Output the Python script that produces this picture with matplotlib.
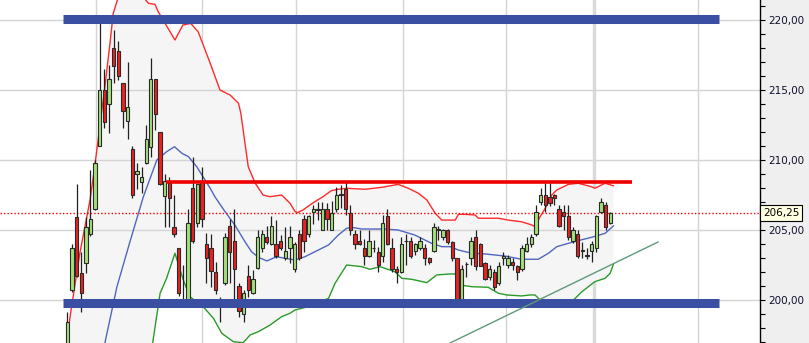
import numpy as np
import matplotlib
matplotlib.use("Agg")
from matplotlib import pyplot as plt
from matplotlib.ticker import MultipleLocator, FuncFormatter

# daily candles
opens = [196.3, 200.71, 205.95, 201.95, 202.66, 204.69, 206.48, 211.0, 215.0, 213.98,
         217.98, 217.79, 215.48, 212.76, 210.76, 208.98, 208.45, 209.76, 210.95, 215.76,
         211.98, 207.45, 208.38, 205.24, 203.69, 199.95, 200.0, 207.98, 205.48, 208.5,
         203.98, 203.69, 201.98, 200.0, 201.19, 205.29, 204.24, 201.0, 199.0, 201.71,
         200.48, 202.26, 203.69, 204.48, 203.98, 203.98, 204.21, 202.98, 203.69, 202.21,
         204.69, 205.79, 204.69, 206.31, 206.5, 205.0, 206.48, 205.0, 206.48, 207.5,
         207.91, 206.24, 204.69, 204.21, 203.69, 203.17, 203.7, 203.45, 203.17, 206.0,
         203.69, 202.21, 201.98, 204.2, 204.21, 203.5, 203.69, 203.69, 202.98, 203.5,
         205.0, 204.48, 205.0, 204.17, 202.98, 200.0, 202.55, 202.98, 204.48, 203.98,
         202.62, 201.67, 201.98, 201.19, 202.98, 202.5, 202.69, 202.45, 202.21, 203.5,
         203.98, 204.69, 206.98, 207.5, 207.38, 207.5, 206.48, 206.31, 206.0, 204.21,
         204.69, 203.5, 203.17, 203.5, 203.69, 206.31, 206.79, 205.48]
highs = [199.16, 203.98, 208.29, 203.45, 205.95, 209.29, 210.0, 220.2, 216.5, 216.79,
         219.29, 218.5, 215.5, 217.02, 211.02, 209.76, 209.52, 212.5, 217.26, 215.8,
         212.0, 209.0, 208.81, 207.5, 203.7, 202.5, 206.48, 210.24, 208.3, 209.52,
         204.76, 204.69, 202.74, 200.2, 204.76, 205.76, 206.48, 201.19, 200.71, 202.5,
         202.14, 205.0, 205.0, 205.29, 206.0, 205.71, 204.64, 205.24, 205.29, 204.12,
         205.0, 206.07, 206.1, 206.79, 207.02, 207.02, 206.9, 207.1, 208.1, 208.2,
         208.41, 206.79, 205.0, 205.0, 204.34, 205.0, 204.29, 203.81, 206.07, 206.48,
         204.43, 202.4, 204.48, 204.71, 204.5, 204.1, 204.48, 204.0, 203.1, 205.48,
         205.29, 205.1, 205.1, 204.2, 203.0, 202.5, 202.74, 204.48, 205.0, 204.1,
         202.7, 202.5, 202.21, 202.74, 203.45, 203.2, 203.0, 202.5, 203.9, 204.5,
         204.7, 206.79, 208.02, 208.38, 208.33, 207.55, 206.79, 206.79, 206.79, 205.2,
         205.0, 204.17, 203.69, 204.2, 206.1, 207.31, 207.02, 206.3]
lows = [196.0, 200.6, 201.65, 199.16, 201.9, 204.6, 206.4, 211.0, 212.26, 211.95,
        215.48, 215.71, 212.26, 211.48, 207.26, 207.91, 207.62, 209.7, 210.24, 212.14,
        208.2, 205.24, 205.24, 204.48, 200.3, 199.6, 199.6, 204.1, 205.24, 205.24,
        201.19, 200.9, 200.43, 198.45, 201.1, 201.19, 199.52, 198.81, 198.45, 200.24,
        200.4, 202.2, 203.45, 204.0, 203.95, 202.98, 203.57, 202.86, 202.66, 202.0,
        202.86, 203.45, 204.48, 205.43, 205.71, 205.0, 205.0, 205.0, 206.31, 206.6,
        206.07, 204.64, 203.62, 203.9, 202.52, 203.1, 203.45, 202.02, 202.74, 203.9,
        202.02, 201.19, 201.95, 202.5, 202.98, 203.2, 203.6, 202.5, 202.6, 203.4,
        204.29, 204.3, 204.0, 202.8, 199.8, 199.8, 201.67, 202.5, 202.14, 202.4,
        201.4, 201.43, 200.71, 201.1, 202.5, 202.26, 202.14, 201.43, 202.1, 203.4,
        203.81, 204.6, 206.8, 206.31, 206.7, 206.79, 205.24, 205.0, 204.29, 204.1,
        202.98, 202.98, 202.93, 202.69, 203.45, 206.2, 205.0, 205.4]
closes = [198.45, 203.69, 201.71, 200.48, 205.24, 205.76, 209.76, 215.0, 212.74, 215.76,
          216.74, 216.0, 213.48, 213.76, 207.5, 209.24, 208.76, 211.48, 215.76, 213.26,
          208.26, 208.5, 207.26, 204.71, 200.48, 199.95, 205.48, 204.21, 208.26, 205.76,
          202.98, 202.05, 200.71, 199.6, 204.48, 203.45, 202.19, 199.21, 200.48, 200.71,
          201.48, 204.48, 204.69, 204.16, 205.29, 203.14, 203.69, 203.5, 204.48, 203.98,
          202.98, 204.21, 206.0, 206.48, 206.45, 206.48, 205.76, 206.24, 207.5, 207.5,
          206.48, 205.0, 203.98, 203.98, 203.17, 204.21, 203.7, 202.5, 205.48, 203.98,
          202.19, 201.98, 203.98, 204.2, 203.17, 203.98, 204.21, 202.98, 202.69, 205.24,
          205.0, 205.0, 204.17, 202.98, 200.0, 202.21, 202.55, 204.21, 202.45, 202.45,
          201.48, 202.21, 200.95, 202.45, 203.17, 202.98, 202.5, 202.02, 203.69, 203.98,
          204.48, 206.26, 207.5, 206.79, 206.95, 207.26, 205.29, 206.0, 204.48, 205.0,
          203.14, 203.5, 203.17, 203.98, 206.0, 206.98, 205.24, 206.25]

# bollinger bands (x in candle index units)
upper_x = [-1.0, -0.1, 0.6, 1.7, 2.7, 3.8, 4.9, 6.0, 7.0, 8.1, 9.2, 9.9, 10.8, 13.5, 16.9,
           17.5, 18.9, 19.6, 23.2, 24.9, 26.6, 28.2, 30.8, 32.9, 35.1, 36.9, 37.4, 39.0,
           40.5, 42.2, 43.7, 46.2, 48.0, 49.1, 49.6, 50.8, 53.0, 55.1, 56.9, 58.4, 60.2,
           64.2, 67.8, 71.3, 73.5, 75.7, 77.5, 79.3, 80.7, 83.6, 84.3, 85.7, 87.9, 88.6,
           92.9, 95.0, 97.9, 100.1, 100.8, 101.9, 103.0, 104.4, 105.5, 108.0, 110.1,
           113.0, 113.7, 115.9, 117.7]
upper_y = [194.5, 196.93, 198.81, 201.19, 203.34, 205.24, 207.14, 209.76, 212.38, 215.24,
           218.34, 220.48, 221.43, 223.0, 221.43, 221.19, 221.12, 220.59, 218.57, 219.64,
           219.76, 219.16, 216.91, 215.0, 214.64, 214.05, 213.34, 209.52, 208.34, 207.5,
           207.38, 207.5, 206.91, 206.31, 206.24, 206.43, 206.95, 207.38, 207.81, 207.91,
           207.98, 207.91, 208.05, 208.26, 207.98, 207.62, 207.14, 206.19, 205.71, 205.71,
           206.12, 206.12, 206.07, 205.84, 205.84, 205.71, 205.59, 205.36, 205.24, 205.95,
           206.55, 207.5, 207.86, 208.26, 208.34, 208.09, 207.98, 208.34, 208.16]
middle_x = [8.1, 10.7, 13.5, 16.4, 19.3, 21.4, 23.1, 24.7, 26.1, 27.9, 30.8, 31.8, 34.0,
            36.1, 38.3, 39.7, 41.2, 43.0, 45.1, 46.9, 49.1, 51.2, 54.1, 56.3, 58.4, 60.2,
            61.3, 63.5, 68.5, 71.3, 74.9, 78.5, 80.7, 82.5, 84.3, 87.2, 90.0, 94.3, 97.9,
            101.5, 103.7, 105.5, 108.0, 110.1, 113.0, 115.9, 117.7]
middle_y = [196.93, 200.95, 204.16, 207.38, 210.0, 210.59, 210.95, 210.48, 210.24, 209.52,
            207.98, 207.38, 206.31, 205.36, 204.16, 203.45, 203.05, 202.79, 203.09, 202.98,
            202.86, 203.09, 203.57, 203.93, 204.64, 205.12, 205.19, 205.07, 205.07, 205.0,
            204.64, 204.05, 203.81, 203.81, 203.57, 203.34, 203.29, 203.14, 202.91, 202.91,
            203.34, 203.81, 204.05, 204.24, 204.48, 204.76, 205.29]
lower_x = [-1.0, 18.4, 20.0, 21.4, 23.2, 25.0, 26.4, 29.3, 31.5, 33.3, 35.8, 37.9, 39.4,
           41.2, 43.7, 46.2, 48.0, 49.1, 51.9, 56.3, 57.7, 60.2, 63.5, 65.2, 67.4, 70.6,
           72.1, 74.2, 77.5, 79.6, 82.5, 83.6, 84.6, 87.2, 90.7, 92.9, 94.7, 97.9, 99.7,
           100.8, 101.9, 109.1, 110.9, 112.3, 113.7, 115.9, 117.0, 117.7]
lower_y = [185.0, 196.93, 200.48, 201.55, 203.34, 201.43, 200.24, 199.52, 198.69, 197.62,
           197.02, 196.95, 197.5, 197.74, 198.21, 198.81, 199.05, 199.29, 199.52, 200.12,
           201.19, 202.5, 202.38, 202.19, 202.38, 202.02, 201.55, 201.48, 201.24, 201.79,
           201.86, 201.86, 201.07, 200.95, 200.91, 200.48, 200.36, 200.29, 200.36, 200.36,
           200.0, 200.0, 200.59, 200.95, 201.31, 201.55, 201.91, 202.55]

# drawn levels
support_res = [220.05, 199.8]
resistance = 208.45
last_price = 206.25
trend_x = [82.5, 127.3]
trend_y = [196.93, 204.14]
month_grid = [6.2, 29.0, 49.3, 72.35, 94.55, 135.9]
year_grid = 113.5

fmt = lambda v, p: f"{v:.2f}".replace('.', ',')

fig = plt.figure(figsize=(8.09, 3.43), dpi=100)
fig.patch.set_facecolor('#efefef')
ax = fig.add_axes([0, 0, 760 / 809, 1])
ax.set_facecolor('white')
ax.set_xlim(-14.504, 149.29)
ax.set_ylim(196.9286, 221.4286)

for s in ['top', 'left', 'bottom']:
    ax.spines[s].set_visible(False)
ax.spines['right'].set_color('black')
ax.spines['right'].set_linewidth(1)
ax.set_xticks([])
ax.yaxis.tick_right()
ax.yaxis.set_major_locator(MultipleLocator(5))
ax.yaxis.set_minor_locator(MultipleLocator(1))
ax.yaxis.set_major_formatter(FuncFormatter(fmt))
ax.tick_params(axis='y', which='both', direction='out', length=3.5, width=0.8,
               color='black', labelsize=7.5, pad=2.5, labelcolor='#101030')

ax.grid(axis='y', which='major', color='#d4d4d4', lw=1, zorder=0)
for g in month_grid:
    ax.axvline(g, color='#d4d4d4', lw=1, zorder=0)
ax.axvline(year_grid, color='#dadada', lw=2.5, zorder=0)

ax.fill(np.r_[upper_x, lower_x[::-1]], np.r_[upper_y, lower_y[::-1]],
        color='#f5f5f5', lw=0, zorder=1)
ax.plot(upper_x, upper_y, color='#ff2a2a', lw=1, zorder=2)
ax.plot(middle_x, middle_y, color='#5066c0', lw=1, zorder=2)
ax.plot(lower_x, lower_y, color='#2a9a2a', lw=1, zorder=2)

ax.axhline(last_price, color='red', lw=1, ls=(0, (1, 1.5)), zorder=2.5)

o = np.array(opens)
h = np.array(highs)
l = np.array(lows)
c = np.array(closes)
x = np.arange(len(o))
ax.vlines(x, l, h, color='#202020', lw=0.9, zorder=3)
colors = np.where(c > o, '#a4e07a', np.where(c < o, '#ee2020', '#202020'))
height = np.maximum(np.abs(c - o), 0.04)
ax.bar(x, height, bottom=np.minimum(o, c), width=0.72, color=colors,
       edgecolor='#2a2a2a', lw=0.8, zorder=3.5)

for lv in support_res:
    ax.hlines(lv, -0.93, 140.5, color='#3a4ea2', lw=6.5, zorder=4)
ax.hlines(resistance, 21.3, 121.7, color='#ee0000', lw=2.6, zorder=4)
ax.plot(trend_x, trend_y, color='#5f9a78', lw=1, zorder=4.5)

fig.text(763 / 809, 1 - 213 / 343, fmt(last_price, None), fontsize=7.5, color='black',
         va='center', ha='left',
         bbox=dict(boxstyle='square,pad=0.25', fc='#ffffe1', ec='black', lw=0.8))

fig.savefig('out.png', dpi=100)
